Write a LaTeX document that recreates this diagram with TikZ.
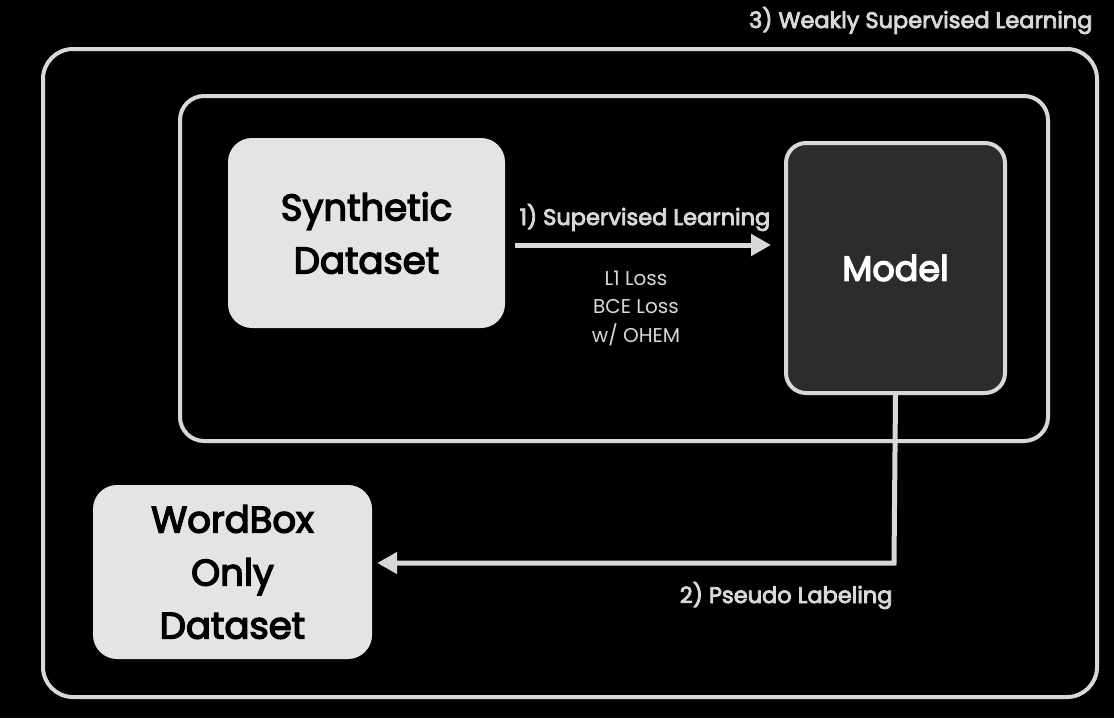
\documentclass[tikz,border=0pt]{standalone}
\usepackage{fontspec}
\setmainfont[Ligatures=NoCommon]{Poppins}
\newfontfamily\medfont[Ligatures=NoCommon, FakeBold=3.8]{Poppins}
\newfontfamily\semifont[Ligatures=NoCommon, FakeBold=3.6]{Poppins}
\usetikzlibrary{arrows.meta}
\definecolor{frame}{HTML}{D8D8D8}
\definecolor{boxfill}{HTML}{E4E4E4}
\definecolor{modelfill}{HTML}{2C2C2C}
\tikzset{
  framebox/.style={draw=frame, line width=4pt},
  databox/.style={fill=boxfill, rounded corners=24pt, align=center, text=black, font=\medfont\fontsize{37}{53}\selectfont},
  modelbox/.style={draw=frame, fill=modelfill, line width=4pt, rounded corners=20pt, text=white, font=\medfont\fontsize{35}{40}\selectfont},
  flow/.style={draw=frame, line width=5pt, -{Triangle[length=20pt,width=21pt]}},
  lbl/.style={text=frame, font=\semifont\fontsize{22.5}{26}\selectfont},
  small/.style={text=frame, font=\fontsize{20}{24}\selectfont},
}
\begin{document}
\begin{tikzpicture}[x=1pt,y=-1pt]
\fill[black] (0,0) rectangle (1114,718);
\useasboundingbox (0,0) rectangle (1114,718);
% frames
\draw[framebox, rounded corners=30pt] (43,49) rectangle (1097,697);
\draw[framebox, rounded corners=24pt] (180,96) rectangle (1048,441);
% nodes
\node[databox, minimum width=277pt, minimum height=190pt] (syn) at (366.5,233) {Synthetic\\Dataset};
\node[modelbox, minimum width=219pt, minimum height=250pt] (model) at (895.5,268) {Model};
\node[databox, minimum width=279pt, minimum height=174pt] (wb) at (232.5,572) {WordBox\\Only\\Dataset};
% labels
\node[lbl, anchor=base east] (wsl) at (1096,28) {3) Weakly Supervised Learning};
% arrow 1
\coordinate (a1s) at (515,245);
\draw[flow] (a1s) -- ([xshift=-13pt]model.west |- a1s);
\node[lbl, anchor=base] (sl) at (645,225) {1) Supervised Learning};
\node[small, anchor=base] (loss1) at (636,285) {L1 Loss};
\node[small, anchor=base] (loss2) at (636,313.5) {BCE Loss};
\node[small, anchor=base] (loss3) at (636,342) {w/ OHEM};
% arrow 2
\coordinate (bend) at (894,563);
\draw[flow] (model.south) -- (bend) -- ([xshift=5pt]wb.east |- bend);
\node[lbl, anchor=base east] (pl) at (896,603) {2) Pseudo Labeling};
\end{tikzpicture}
\end{document}
